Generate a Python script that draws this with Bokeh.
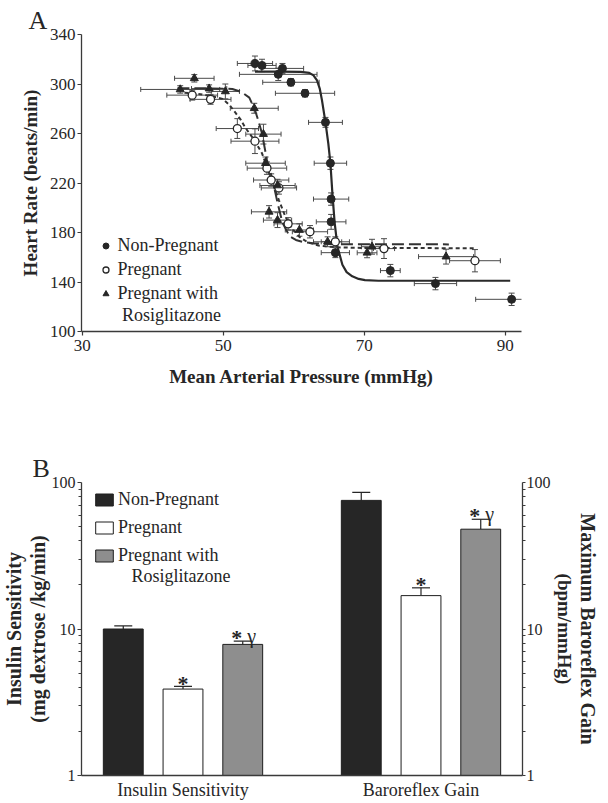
from bokeh.plotting import figure
from bokeh.models import (ColumnDataSource, Whisker, TeeHead, Legend, LegendItem, Title,
                          FixedTicker, FactorRange, Range1d, LogAxis, BasicTickFormatter)
from bokeh.transform import dodge
from bokeh.layouts import column
from bokeh.core.properties import value
from bokeh.embed import file_html
from bokeh.resources import INLINE

SERIF = "Liberation Serif"
INK = "#262626"
AXC = "#3a3a3a"
ERR = "#4a4a4a"

# ---------------- Panel A data (mmHg, beats/min) ----------------
np_x = [54.5, 55.5, 57.8, 58.4, 59.6, 61.6, 64.5, 65.2, 65.3, 65.3, 65.9, 73.7, 80.1, 90.9]
np_y = [316.6, 315.0, 307.8, 312.6, 301.4, 292.5, 269.0, 236.0, 207.0, 188.6, 163.7, 149.2, 138.7, 126.0]
np_xe = [2.5, 2.0, 5.5, 3.0, 4.0, 4.2, 2.4, 2.3, 2.5, 2.1, 2.0, 1.4, 3.0, 5.1]
np_ye = [6, 5, 5, 4, 3, 3, 4, 5, 5, 6, 4, 5, 5, 5]

p_x = [45.6, 48.2, 52.0, 54.5, 56.2, 56.8, 57.9, 59.2, 62.3, 65.9, 72.8, 85.7]
p_y = [291.0, 287.6, 264.0, 253.8, 232.0, 222.4, 216.0, 187.0, 180.6, 172.5, 167.0, 157.2]
p_xe = [3.6, 2.9, 3.0, 3.4, 2.8, 2.5, 2.5, 2.0, 2.5, 2.0, 1.5, 3.6]
p_ye = [4, 4, 8, 10, 5, 5, 5, 5, 5, 4, 8, 9]

r_x = [43.9, 45.9, 48.0, 50.3, 54.4, 55.7, 56.0, 57.7, 56.5, 57.7, 60.8, 64.8, 70.4, 71.1, 81.6]
r_y = [295.6, 304.6, 296.3, 294.0, 280.4, 259.5, 236.0, 218.0, 196.7, 190.0, 182.0, 172.5, 163.6, 168.5, 160.5]
r_xe = [5.6, 2.8, 2.5, 2.0, 3.4, 2.5, 2.8, 2.5, 2.5, 2.0, 2.0, 2.0, 1.4, 1.5, 3.9]
r_ye = [3, 3, 3, 6, 4, 8, 5, 5, 5, 6, 5, 4, 4, 6, 6]

# fitted curves
np_cx = [54.5, 58.0, 61.0, 62.2, 62.8, 63.3, 63.7, 64.0, 64.5, 64.9, 65.2, 65.5, 65.8, 66.2,
         66.9, 67.5, 68.3, 69.2, 70.1, 72.0, 90.7]
np_cy = [310.0, 310.0, 309.8, 309.0, 307.0, 303.0, 296.0, 287.0, 269.0, 252.0, 236.0, 210.0,
         188.0, 168.5, 154.0, 148.0, 144.6, 142.5, 141.5, 141.0, 141.0]
p_cx = [44.5, 46.5, 48.5, 49.9, 50.9, 51.7, 52.5, 53.1, 54.4, 55.5, 56.7, 57.9, 58.8, 59.8,
        60.8, 62.0, 63.5, 66.0, 70.0, 85.6]
p_cy = [293.0, 292.0, 290.0, 288.0, 283.0, 277.0, 271.0, 265.0, 254.7, 244.0, 225.0, 206.0,
        193.0, 183.0, 176.5, 172.0, 169.5, 168.0, 167.5, 167.3]
r_cx = [43.5, 48.0, 51.3, 52.6, 53.7, 54.5, 55.0, 55.5, 56.2, 57.0, 57.7, 58.4, 59.4, 60.3,
        61.2, 63.0, 66.0, 82.0]
r_cy = [296.5, 296.5, 296.0, 293.5, 289.0, 279.0, 270.0, 260.0, 238.6, 222.5, 204.0, 188.0,
        177.0, 174.0, 172.5, 171.2, 170.6, 170.4]

a_x_ticks = [30, 50, 70, 90]
a_y_ticks = [100, 140, 180, 220, 260, 300, 340]

# ---------------- Panel B data ----------------
groups = ["Insulin Sensitivity", "Baroreflex Gain"]
b_np = [10.0, 75.5]
b_np_err = [0.5, 10.0]
b_preg = [3.89, 16.9]
b_preg_err = [0.17, 2.2]
b_rosi = [7.85, 48.0]
b_rosi_err = [0.41, 8.1]
b_ticks = [1, 10, 100]
b_minor = [m * d for d in (1, 10) for m in range(2, 10)]


def style_axis(ax, tick_size="17px"):
    ax.axis_line_color = AXC
    ax.axis_line_width = 1.3
    ax.major_tick_line_color = AXC
    ax.major_tick_line_width = 1.2
    ax.major_tick_out = 4
    ax.major_tick_in = 0
    ax.minor_tick_line_color = None
    ax.major_label_text_font = SERIF
    ax.major_label_text_font_size = tick_size
    ax.major_label_text_color = INK
    ax.major_label_standoff = 2
    ax.axis_label_text_font = SERIF
    ax.axis_label_text_font_style = "bold"
    ax.axis_label_text_color = INK


def panel_title(text, offset, size="26px", align="left", bold=False, standoff=0):
    return Title(text=text, align=align, offset=offset, standoff=standoff,
                 text_font=SERIF, text_font_size=size, text_color=INK,
                 text_font_style="bold" if bold else "normal")


# ================= Panel A =================
pA = figure(frame_width=440, frame_height=297, x_range=Range1d(29.9, 92.3),
            y_range=Range1d(100, 340),
            output_backend="svg", toolbar_location=None,
            min_border_left=80, min_border_right=72, min_border_top=34, min_border_bottom=69)
pA.grid.visible = False
pA.outline_line_color = None
style_axis(pA.xaxis[0])
style_axis(pA.yaxis[0])
pA.xaxis.ticker = FixedTicker(ticks=a_x_ticks)
pA.yaxis.ticker = FixedTicker(ticks=a_y_ticks)
pA.xaxis.axis_label = "Mean Arterial Pressure (mmHg)"
pA.yaxis.axis_label = "Heart Rate (beats/min)"
pA.xaxis.axis_label_text_font_size = "19px"
pA.yaxis.axis_label_text_font_size = "19px"
pA.xaxis.major_label_standoff = 4
pA.xaxis.axis_label_standoff = 12
pA.yaxis.axis_label_standoff = 6


def make_src(xs, ys, xe, ye):
    return ColumnDataSource(dict(
        x=xs, y=ys,
        xl=[a - b for a, b in zip(xs, xe)], xu=[a + b for a, b in zip(xs, xe)],
        yl=[a - b for a, b in zip(ys, ye)], yu=[a + b for a, b in zip(ys, ye)]))


def add_errors(p, src):
    p.add_layout(Whisker(source=src, base="y", lower="xl", upper="xu", dimension="width",
                         line_color=ERR, line_width=1,
                         upper_head=TeeHead(size=5, line_color=ERR, line_width=1),
                         lower_head=TeeHead(size=5, line_color=ERR, line_width=1)))
    p.add_layout(Whisker(source=src, base="x", lower="yl", upper="yu", dimension="height",
                         line_color=ERR, line_width=1,
                         upper_head=TeeHead(size=6, line_color=ERR, line_width=1),
                         lower_head=TeeHead(size=6, line_color=ERR, line_width=1)))


src_np = make_src(np_x, np_y, np_xe, np_ye)
src_p = make_src(p_x, p_y, p_xe, p_ye)
src_r = make_src(r_x, r_y, r_xe, r_ye)
for s in (src_np, src_p, src_r):
    add_errors(pA, s)

pA.line(np_cx, np_cy, line_width=2.2, line_color="#2a2a2a")
pA.line(p_cx, p_cy, line_width=2, line_color="#333333", line_dash="4 3")
pA.line(r_cx, r_cy, line_width=2, line_color="#333333", line_dash="12 5")

r_np = pA.scatter("x", "y", source=src_np, marker="circle", size=8,
                  fill_color=INK, line_color=INK)
r_p = pA.scatter("x", "y", source=src_p, marker="circle", size=8,
                 fill_color="white", line_color=INK, line_width=1.3)
r_r = pA.scatter("x", "y", source=src_r, marker="triangle", size=8,
                 fill_color=INK, line_color=INK)
r_dummyA = pA.scatter(x=[], y=[], marker="circle", size=1, fill_alpha=0, line_alpha=0)


def legend_kw(gw, gh, standoff):
    return dict(glyph_width=gw, glyph_height=gh, label_height=21, label_standoff=standoff,
                label_text_font=SERIF, label_text_font_size="18px", label_text_color=INK,
                padding=0, margin=0, border_line_alpha=0, background_fill_alpha=0)


legA1 = Legend(items=[LegendItem(label=value("Non-Pregnant"), renderers=[r_np]),
                      LegendItem(label=value("Pregnant"), renderers=[r_p]),
                      LegendItem(label=value("Pregnant with"), renderers=[r_r])],
               location=(16.5, 27.5), spacing=3, **legend_kw(15, 15, 5))
legA2 = Legend(items=[LegendItem(label=value("\u00a0Rosiglitazone"), renderers=[r_dummyA])],
               location=(16.5, 5.5), spacing=0, **legend_kw(15, 15, 5))
pA.add_layout(legA1)
pA.add_layout(legA2)

pA.add_layout(panel_title("A", -53), "above")

# ================= Panel B =================
xr = FactorRange(factors=groups, factor_padding=1, range_padding=0.353,
                 range_padding_units="absolute")
pB = figure(width=600, height=402, x_range=xr, y_range=Range1d(1, 100),
            y_axis_type="log", output_backend="svg", toolbar_location=None,
            min_border_left=80, min_border_right=78, min_border_top=82, min_border_bottom=20)
pB.grid.visible = False
pB.outline_line_color = None

srcB = ColumnDataSource(dict(
    group=groups,
    np=b_np, np_hi=[a + b for a, b in zip(b_np, b_np_err)],
    preg=b_preg, preg_hi=[a + b for a, b in zip(b_preg, b_preg_err)],
    rosi=b_rosi, rosi_hi=[a + b for a, b in zip(b_rosi, b_rosi_err)]))

OFF = 0.502
W = 0.335
series = [("np", -OFF, "#262626"),
          ("preg", 0.0, "white"),
          ("rosi", OFF, "#8e8e8e")]
bar_r = {}
for key, off, col in series:
    pB.add_layout(Whisker(source=srcB, base=dodge("group", off, range=xr), lower=key,
                          upper=key + "_hi", dimension="height", line_color=INK, line_width=1.2,
                          lower_head=None,
                          upper_head=TeeHead(size=18, line_color=INK, line_width=1.2)))
    bar_r[key] = pB.vbar(x=dodge("group", off, range=xr), top=key, bottom=1, width=W,
                         source=srcB, fill_color=col, line_color="#1e1e1e", line_width=1)

r_dummyB = pB.vbar(x=[], top=[], bottom=1, width=W, fill_alpha=0, line_alpha=0)

star_kw = dict(text_font=value(SERIF), text_font_size="22px", text_font_style="bold",
               text_align="center", text_baseline="alphabetic", text_color=INK)
pB.text(x=dodge("group", 0.0, range=xr), y="preg_hi", text=value("*"), source=srcB,
        y_offset=-3, **star_kw)
pB.text(x=dodge("group", OFF - 0.05, range=xr), y="rosi_hi", text=value("*"), source=srcB,
        y_offset=-4, **star_kw)
pB.text(x=dodge("group", OFF + 0.075, range=xr), y="rosi_hi", text=value("\u03b3"), source=srcB,
        y_offset=-5, text_font=value(SERIF), text_font_size="20px",
        text_align="center", text_baseline="alphabetic", text_color=INK)

style_axis(pB.xaxis[0], "18px")
pB.xaxis.major_tick_line_color = None
pB.xaxis.major_label_standoff = 0

yl = pB.yaxis[0]
style_axis(yl, "16px")
yl.ticker = FixedTicker(ticks=b_ticks, minor_ticks=b_minor)
yl.formatter = BasicTickFormatter()
yl.minor_tick_line_color = AXC
yl.minor_tick_out = 3
yl.minor_tick_in = 0
yl.axis_label = "Insulin Sensitivity\n(mg dextrose /kg/min)"
yl.axis_label_text_font_size = "20px"
yl.axis_label_text_line_height = 1.05
yl.axis_label_standoff = 0

yr = LogAxis(ticker=FixedTicker(ticks=b_ticks, minor_ticks=b_minor),
             formatter=BasicTickFormatter())
style_axis(yr, "16px")
yr.major_tick_out = 3
yr.major_label_standoff = 1
yr.minor_tick_line_color = AXC
yr.minor_tick_out = 3
yr.minor_tick_in = 0
pB.add_layout(yr, "right")
pB.add_layout(panel_title("(bpm/mmHg)", -15, size="19px", align="center", bold=True), "right")
pB.add_layout(panel_title("Maximum Baroreflex Gain", 13, size="20px", align="center",
                          bold=True), "right")

legB1 = Legend(items=[LegendItem(label=value("Non-Pregnant"), renderers=[bar_r["np"]]),
                      LegendItem(label=value("Pregnant"), renderers=[bar_r["preg"]]),
                      LegendItem(label=value("Pregnant with"), renderers=[bar_r["rosi"]])],
               location=(12, 209.5), spacing=7, **legend_kw(22, 15, 3))
legB2 = Legend(items=[LegendItem(label=value("\u00a0\u00a0\u00a0Rosiglitazone"),
                                 renderers=[r_dummyB])],
               location=(12, 188.5), spacing=0, **legend_kw(22, 15, 3))
pB.add_layout(legB1)
pB.add_layout(legB2)

pB.add_layout(panel_title("B", -49), "above")

layout = column(pA, pB)
open("out.html", "w").write(file_html(layout, INLINE))
